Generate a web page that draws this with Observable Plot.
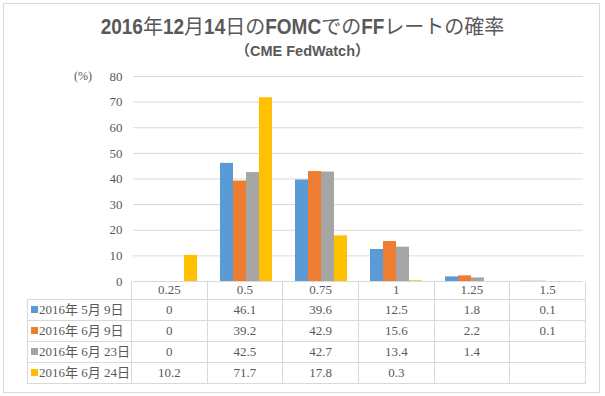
<!DOCTYPE html>
<html><head><meta charset="utf-8">
<script src="https://cdn.jsdelivr.net/npm/d3@7"></script>
<script src="https://cdn.jsdelivr.net/npm/@observablehq/plot@0.6"></script>
<style>
body{margin:0;background:#fff}
#wrap{position:relative;width:605px;height:396px;background:#fff;overflow:hidden}
#frame{position:absolute;left:3px;top:3px;width:597px;height:390px;border:1px solid #d9d9d9;box-sizing:border-box}
#title{position:absolute;left:0;width:605px;top:12px;text-align:center;font-size:20px;color:#595959;font-family:"Noto Sans CJK JP",sans-serif;line-height:28px;height:28px;white-space:nowrap}
#title b{display:inline-block;font-weight:bold;font-family:"Liberation Sans",sans-serif;font-size:19px;transform:scaleY(1.2);transform-origin:50% 78%}
#sub{position:absolute;left:0;width:605px;top:42px;text-align:center;font-size:14.5px;font-weight:bold;color:#595959;font-family:"Liberation Sans","Noto Sans CJK JP",sans-serif;line-height:18px}
#unit{position:absolute;left:74px;top:68px;font-size:12px;color:#595959;font-family:"Liberation Serif",serif;line-height:16px}
#chart{position:absolute;left:0;top:0}
#tbl{position:absolute;left:27px;top:281px;border-collapse:collapse;table-layout:fixed;font-family:"Liberation Serif","Noto Sans CJK JP",serif;font-size:13px;color:#595959}
#tbl td{border:1px solid #d9d9d9;padding:0;text-align:center;height:20px;line-height:20px;white-space:nowrap;overflow:hidden}
#tbl tr.h td{height:18px;line-height:18px;border-top:none}
#tbl tr.h td.e{border:none;border-right:1px solid #d9d9d9}
#tbl td.lab{text-align:left;padding-left:3px}
.sw{display:inline-block;width:7px;height:7px;margin-right:1px;vertical-align:1px}
</style></head>
<body>
<div id="wrap">
<div id="frame"></div>
<div id="title"><b>2016</b>年<b>12</b>月<b>14</b>日の<b>FOMC</b>での<b>FF</b>レートの確率</div>
<div id="sub">（CME FedWatch）</div>
<div id="unit">(%)</div>
<div id="chart"></div>
<table id="tbl"></table>
</div>
<script>
const categories = ["0.25", "0.5", "0.75", "1", "1.25", "1.5"];
const seriesNames = ["2016年 5月 9日", "2016年 6月 9日", "2016年 6月 23日", "2016年 6月 24日"];
const colors = ["#5B9BD5", "#ED7D31", "#A5A5A5", "#FFC000"];
const may9  = [0, 46.1, 39.6, 12.5, 1.8, 0.1];
const jun9  = [0, 39.2, 42.9, 15.6, 2.2, 0.1];
const jun23 = [0, 42.5, 42.7, 13.4, 1.4, null];
const jun24 = [10.2, 71.7, 17.8, 0.3, null, null];
const yTicks = [0, 10, 20, 30, 40, 50, 60, 70, 80];

const seriesValues = [may9, jun9, jun23, jun24];
const data = [];
seriesNames.forEach((s, i) => categories.forEach((c, j) => {
  const v = seriesValues[i][j];
  if (v != null) data.push({cat: c, series: s, value: v});
}));

const chart = Plot.plot({
  width: 605, height: 300,
  marginLeft: 131, marginRight: 20, marginTop: 76, marginBottom: 19,
  style: {fontFamily: '"Liberation Serif", serif', fontSize: "13px", color: "#595959", background: "transparent"},
  fx: {domain: categories, padding: 0, axis: null},
  x: {domain: seriesNames, paddingInner: 0, paddingOuter: 0.7, axis: null},
  y: {domain: [0, 80]},
  color: {domain: seriesNames, range: colors},
  marks: [
    Plot.gridY(yTicks, {stroke: "#d9d9d9", strokeOpacity: 1}),
    Plot.axisY(yTicks, {tickSize: 0, tickPadding: 11, label: null, fontSize: 13}),
    Plot.barY(data, {fx: "cat", x: "series", y: "value", fill: "series"})
  ]
});
document.getElementById("chart").appendChild(chart);

// data table
const tbl = document.getElementById("tbl");
const colW = (605 - 131 - 20) / categories.length;
let html = '<colgroup><col style="width:104px">' + categories.map(() => `<col style="width:${colW}px">`).join("") + '</colgroup>';
html += '<tr class="h"><td class="e"></td>' + categories.map(c => `<td>${c}</td>`).join("") + '</tr>';
seriesNames.forEach((s, i) => {
  html += `<tr><td class="lab"><span class="sw" style="background:${colors[i]}"></span>${s}</td>` +
    seriesValues[i].map(v => `<td>${v == null ? "" : v}</td>`).join("") + '</tr>';
});
tbl.innerHTML = html;
</script>
</body></html>
